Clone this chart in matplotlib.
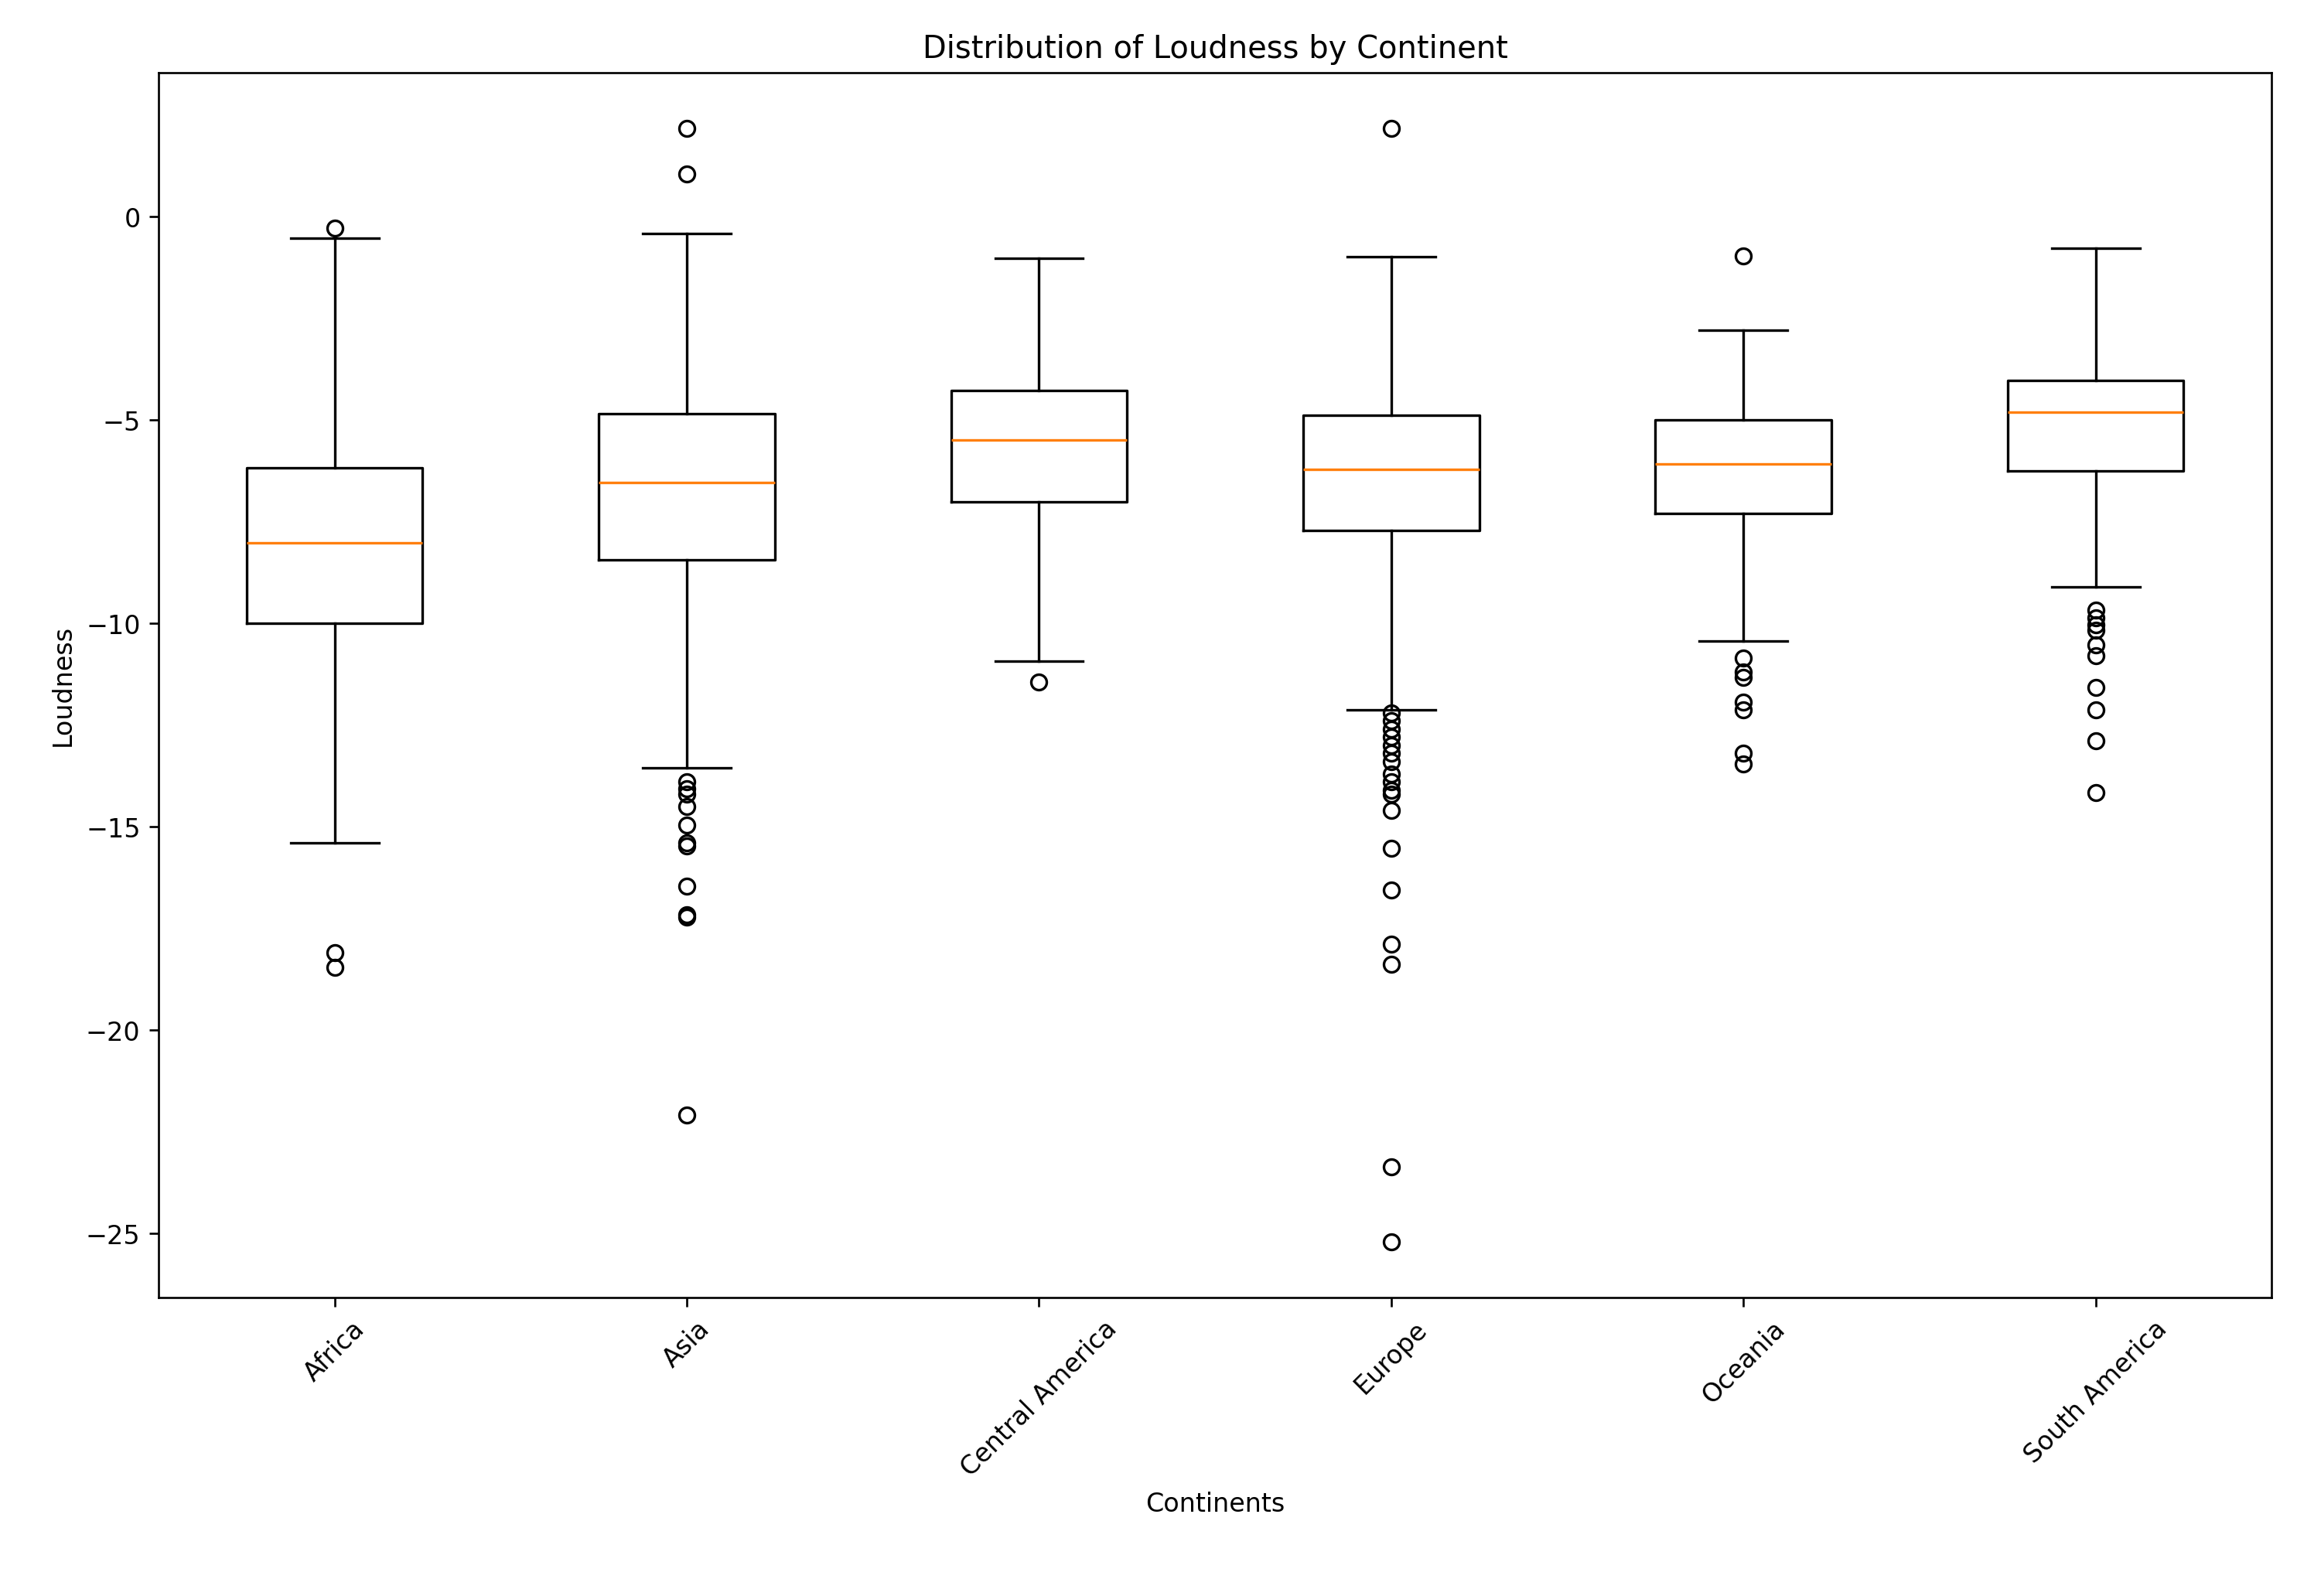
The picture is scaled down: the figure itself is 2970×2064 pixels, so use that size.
import matplotlib
matplotlib.use("Agg")
import matplotlib.pyplot as plt

continents = ["Africa", "Asia", "Central America", "Europe", "Oceania", "South America"]
whislo = [-15.4, -13.56, -10.94, -12.12, -10.43, -9.1]
q1 = [-10.0, -8.45, -7.01, -7.73, -7.3, -6.26]
med = [-8.02, -6.55, -5.5, -6.22, -6.08, -4.82]
q3 = [-6.19, -4.86, -4.28, -4.89, -5.0, -4.03]
whishi = [-0.54, -0.43, -1.04, -1.0, -2.8, -0.79]
fliers = [
    [-0.29, -18.1, -18.45],
    [2.16, 1.04, -13.9, -14.07, -14.2, -14.5, -14.96, -15.4, -15.47, -16.47, -17.16, -17.23, -22.09],
    [-11.44],
    [2.16, -12.2, -12.4, -12.6, -12.8, -13.0, -13.2, -13.4, -13.7, -13.9, -14.1, -14.2,
     -14.6, -15.54, -16.55, -17.88, -18.38, -23.35, -25.2],
    [-0.97, -10.86, -11.19, -11.33, -11.94, -12.12, -13.2, -13.45],
    [-9.68, -9.86, -10.04, -10.18, -10.54, -10.79, -11.58, -12.12, -12.88, -14.17],
]

stats = []
for i, name in enumerate(continents):
    stats.append(dict(label=name, whislo=whislo[i], q1=q1[i], med=med[i],
                      q3=q3[i], whishi=whishi[i], fliers=fliers[i]))

fig, ax = plt.subplots(figsize=(12.375, 8.604), dpi=240)
ax.bxp(stats)
ax.set_title("Distribution of Loudness by Continent")
ax.set_xlabel("Continents")
ax.set_ylabel("Loudness")
plt.setp(ax.get_xticklabels(), rotation=45)
plt.subplots_adjust(left=0.069, right=0.989, top=0.954, bottom=0.187)
fig.savefig("out.png")
